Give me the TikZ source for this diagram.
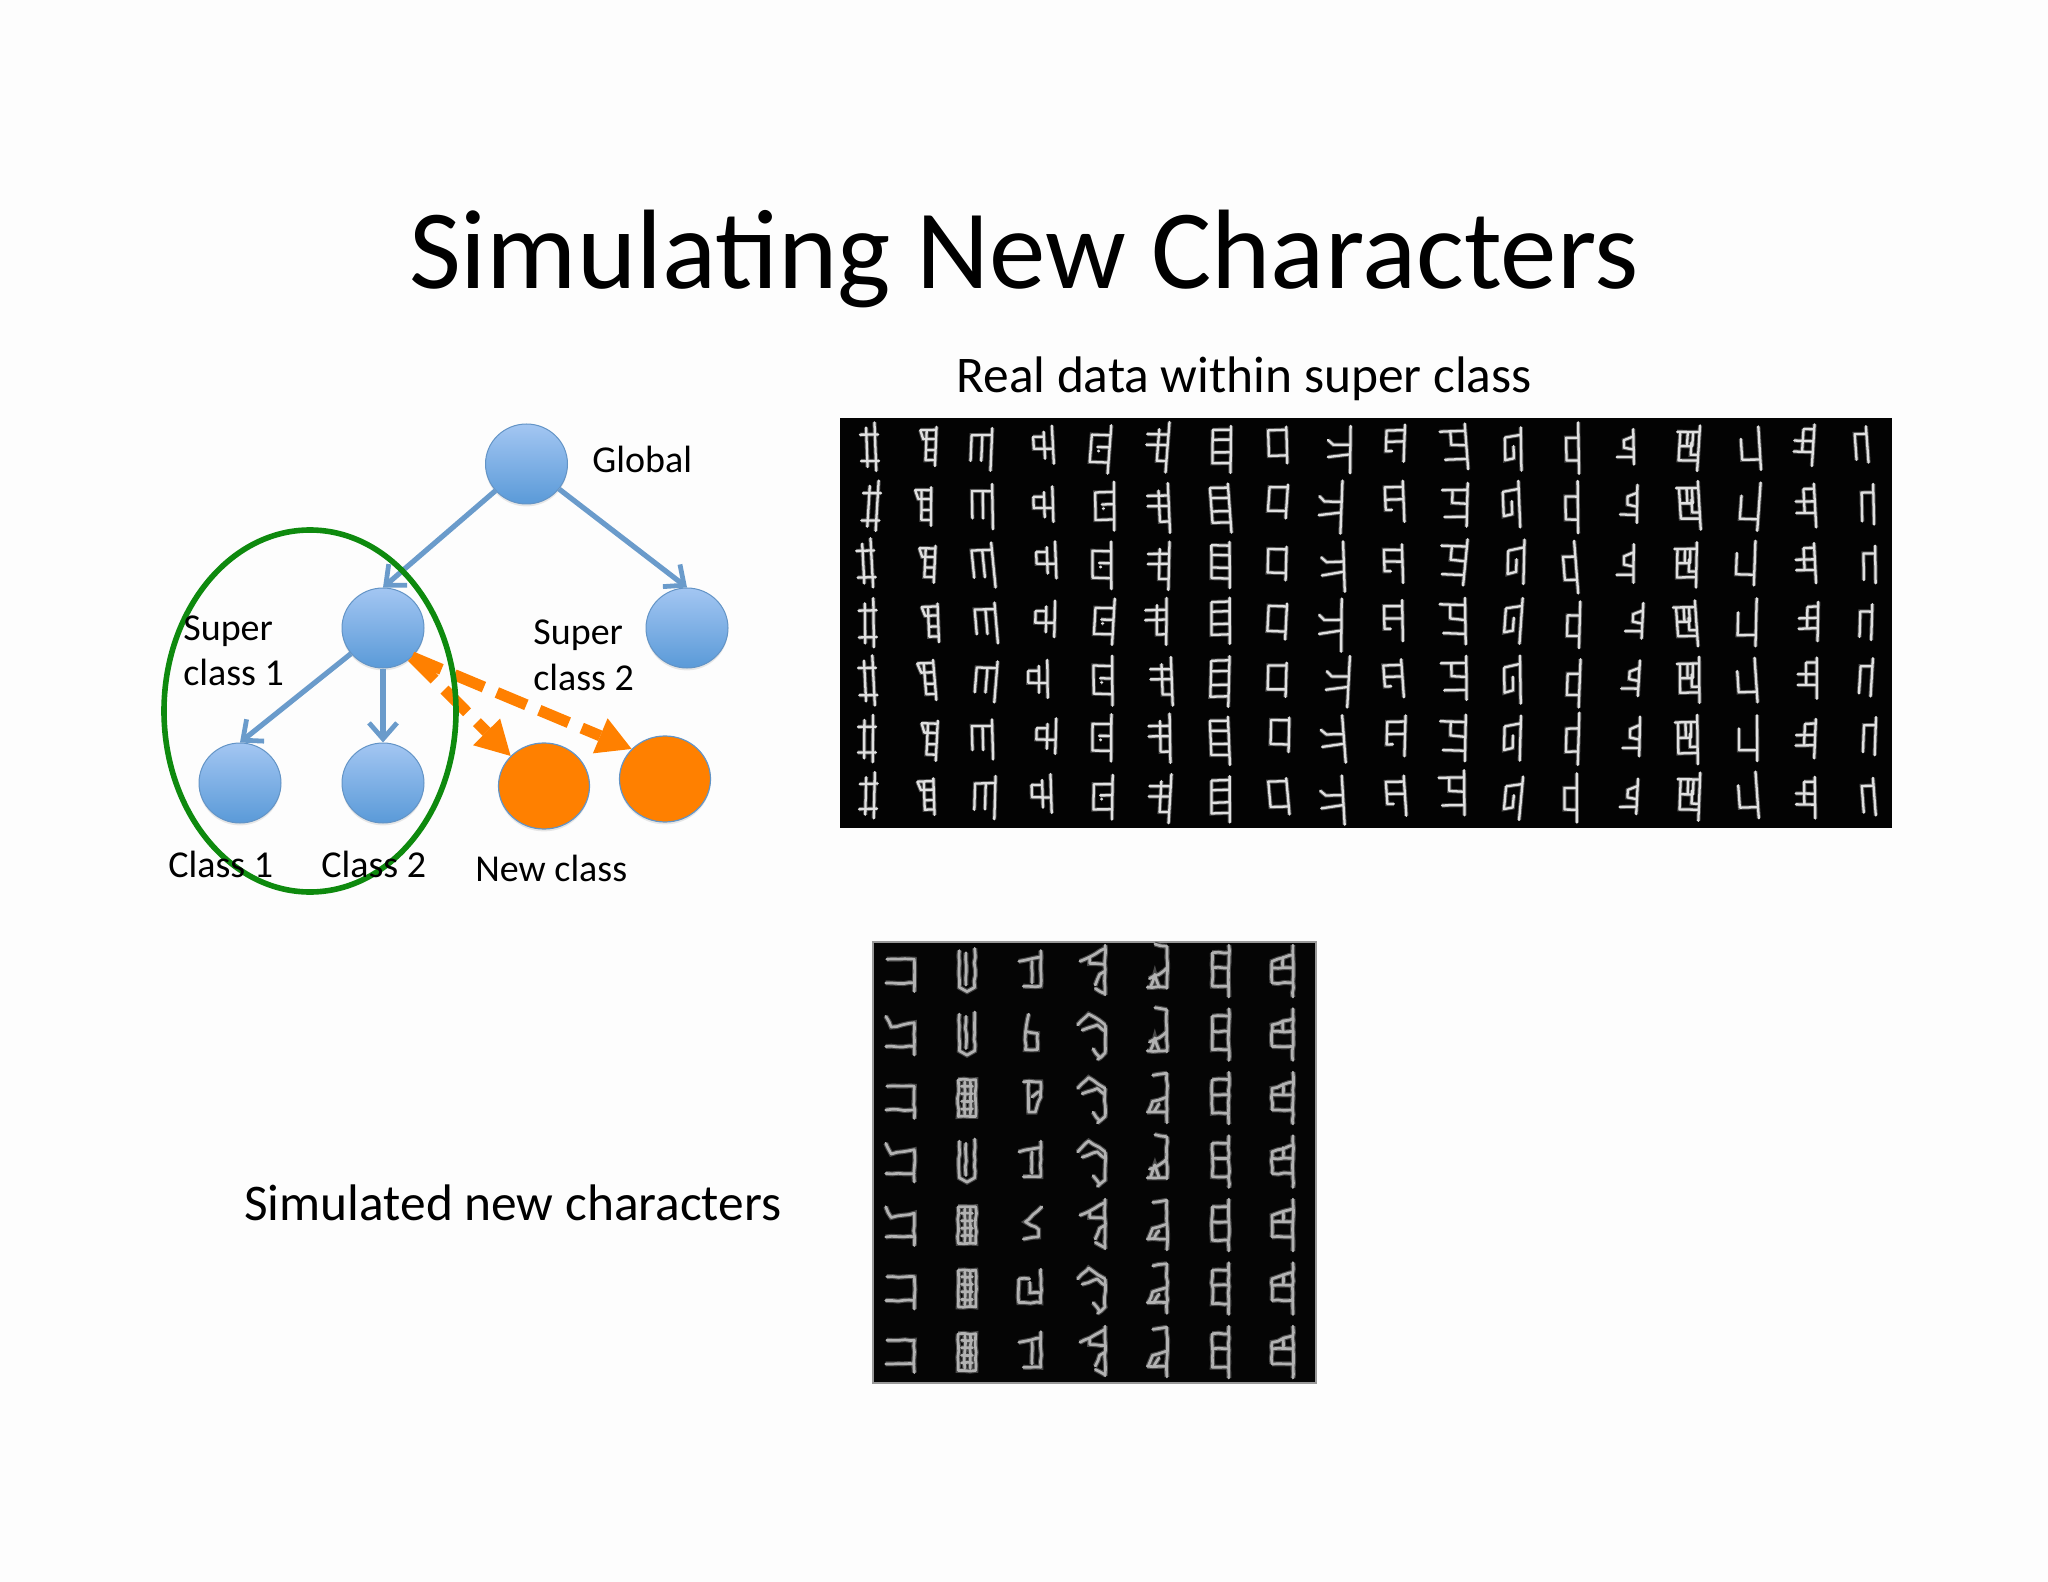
\documentclass[tikz,border=0pt]{standalone}
\usepackage{fontspec}
\setmainfont{Carlito}
\usetikzlibrary{shapes.geometric,arrows.meta,shadows,decorations.pathmorphing}
\definecolor{nodeTop}{HTML}{A3C6F2}
\definecolor{nodeBot}{HTML}{5A9AD8}
\definecolor{nodeEdge}{HTML}{6394C6}
\definecolor{edgeBlue}{HTML}{6A9BCB}
\definecolor{newOrange}{HTML}{FF8000}
\definecolor{ringGreen}{HTML}{0E8A0E}
\tikzset{
  bluenode/.style={ellipse,inner sep=0pt,minimum width=41pt,minimum height=40pt,top color=nodeTop,bottom color=nodeBot,draw=nodeEdge,line width=.5pt,drop shadow={opacity=.18,shadow xshift=0pt,shadow yshift=-1.2pt}},
  orangenode/.style={ellipse,inner sep=0pt,minimum width=45.5pt,minimum height=43pt,fill=newOrange,draw=nodeEdge,line width=.6pt,drop shadow={opacity=.18,shadow xshift=0pt,shadow yshift=-1.2pt}},
  ring/.style={ellipse,inner sep=0pt,minimum width=146pt,minimum height=181pt,draw=ringGreen,line width=2.8pt},
  treeedge/.style={draw=edgeBlue,line width=2.6pt,-{Straight Barb[length=8pt,width=14pt,line width=2.4pt]}},
  newedge/.style={draw=newOrange,line width=5.6pt,dash pattern=on 16pt off 7pt,-{Triangle[length=17pt,width=19pt,line width=0pt]}},
  lab/.style={inner sep=0pt,anchor=base west,font=\fontsize{19}{20}\selectfont},
  biglab/.style={inner sep=0pt,anchor=base west,font=\fontsize{25.7}{28}\selectfont},
  titlelab/.style={inner sep=0pt,anchor=base,font=\fontsize{56.5}{58}\selectfont},
  realstroke/.style={draw=white!88!black,line width=1.15pt,line cap=round,line join=round,preaction={draw=black!70,line width=2.1pt}},
  simstroke/.style={draw=white!70!black,line width=1.35pt,line cap=round,line join=round,decorate,decoration={random steps,segment length=3pt,amplitude=.35pt},preaction={draw=black!72,line width=2.5pt}}
}
% real-data glyphs, local pixels around the glyph centre
\def\glyA{(-4,-19)--(-4,20) (4,-24)--(4,24) (-10,-12)--(7,-12) (-10,14)--(7,14)}
\def\glyB{(7,-19)--(7,20) (-2,-16)--(-2,14)--(7,14) (-8,-16)--(7,-16) (-8,-16)--(-5,-7)--(7,-7) (-2,4)--(7,4)}
\def\glyC{(-10,13)--(-10,-13)--(9,-13) (9,-20)--(9,23) (0,-13)--(0,13)}
\def\glyD{(8,-19)--(8,19) (0,-13)--(0,14) (-10,-8)--(-10,4)--(8,4) (-10,-8)--(0,-8)}
\def\glyE{(8,13)--(-9,13)--(-9,-14)--(8,-14) (8.5,-24)--(8.5,24) (-3,-2)--(8,-2) (-2,2)--(-1,2)}
\def\glyF{(0,-17)--(0,13)--(9,13) (9,-24)--(9,24) (-11,-12)--(9,-12) (-11,-2)--(9,-2)}
\def\glyG{(-8,-20)--(-8,14)--(9,14) (9,-24)--(9,24) (-8,-20)--(9,-20) (-8,-10)--(9,-10) (-8,3)--(9,3)}
\def\glyH{(9,-15)--(-8,-15)--(-8,10)--(9,10) (9,-18)--(9,18)}
\def\glyI{(9,-25)--(9,25) (-12,-10)--(-7,-5)--(9,-5) (-12,8)--(9,5)}
\def\glyJ{(-3,8)--(-9,8)--(-9,-14)--(8,-14) (8,-20)--(8,20) (-8,-2)--(8,-2)}
\def\glyK{(10,-22)--(10,22) (-14,-15)--(10,-15) (-4,-15)--(-4,-2)--(10,-1) (-11,12)--(10,12)}
\def\glyL{(7,-23)--(7,23) (-8,-12)--(7,-15) (-8,-12)--(-8,12)--(0,10)--(0,-3)}
\def\glyM{(5,-9)--(-6.5,-9)--(-6.5,13)--(5,13) (5,-24)--(5,26)}
\def\glyN{(7,-18)--(7,20) (7,-10)--(-2,-6)--(-2,2)--(7,4) (-9,12)--(7,12)}
\def\glyO{(10,-24)--(10,24) (-11,-17)--(10,-17) (-8,-17)--(-8,13)--(10,13) (-1,-17)--(-1,-2) (4,-17)--(4,-2) (-8,-2)--(4,-2) (3,-6)--(3,7)--(10,7)}
\def\glyP{(-8,-10)--(-8,12)--(9,12) (9,-23)--(9,23)}
\def\glyQ{(-2,-16)--(-2,7) (8,-21)--(8,21) (-2,-16)--(8,-16) (-10,-4)--(8,-4) (-10,7)--(8,7)}
\def\glyR{(-5,17)--(-5,-10)--(6,-10) (6,-18)--(6,20)}
% simulated glyphs
\def\simAa{(-12,-10)--(13,-10)--(13,20) (-13,12)--(13,12)}
\def\simAb{(-13,-16)--(-8,-6)--(13,-10)--(13,20) (-13,12)--(13,12)}
\def\simBa{(-7,-18)--(-7,16)--(0,20)--(7,16)--(7,-20) (-1,-16)--(-1,14)}
\def\simBf{(-8,-16)--(-8,18)--(8,18)--(8,-16)--(-8,-16) (-5,-10)--(5,-10) (-5,-3)--(5,-3) (-5,4)--(5,4) (-5,11)--(5,11) (-2,-14)--(-2,16) (3,-14)--(3,16)}
\def\simCa{(8,-18)--(8,15)--(-8,15) (-12,-8)--(8,-12) (0,-8)--(0,12)}
\def\simCb{(-3,-18)--(-6,0)--(-6,15)--(5,15)--(5,0)--(-6,-2)}
\def\simCc{(-8,-14)--(8,-14)--(8,0)--(3,14)--(-3,14)--(-3,-14) (0,0)--(6,-5)}
\def\simCe{(9,-16)--(-6,-2)--(6,5)--(6,12)--(-8,14)}
\def\simCf{(-12,-8)--(-12,14)--(8,14)--(8,-17) (-2,-5)--(-2,5)--(8,5) (-12,-8)--(-2,-8)}
\def\simDa{(11,-23)--(11,23) (-12,-8)--(-3,-12)--(11,-20) (-3,-12)--(-3,-6)--(11,-5) (2,14)--(6,4)--(11,1) (2,17)--(11,22)}
\def\simDb{(11,-8)--(11,18)--(4,24) (-14,-8)--(-4,-18)--(11,-8) (-10,-3)--(4,-8)--(11,-2) (0,14)--(6,22)}
\def\simEa{(9,-22)--(9,17) (-2,-24)--(9,-22) (-9,16)--(9,16) (-7,8)--(2,4)--(9,-2) (-6,16)--(-2,4)--(2,16)}
\def\simEb{(9,-22)--(9,24) (-4,-20)--(9,-22) (-9,14)--(9,14) (-8,14)--(-4,4)--(9,0) (-3,14)--(2,6)}
\def\simF{(-7,-16)--(-7,15)--(8,15) (8,-23)--(8,25) (-7,-16)--(8,-16) (-7,-2)--(8,-2)}
\def\simG{(-10,12)--(-10,-8)--(9,-14) (9,-23)--(9,25) (-10,-2)--(9,-2) (-10,12)--(9,12) (0,-12)--(0,-2)}
\begin{document}
\begin{tikzpicture}[x=.5pt,y=-.5pt]
\useasboundingbox (0,0) rectangle (2048,1582);
\fill[white!99.4!black] (0,0) rectangle (2048,1582);
% title and captions
\node[titlelab] (title) at (1024,289) {Simulating New Characters};
\node[biglab] (realcap) at (956,393) {Real data within super class};
\node[biglab] (simcap) at (244,1220) {Simulated new characters};
% tree
\node[bluenode] (global) at (526.5,464) {};
\node[bluenode] (super1) at (383,628) {};
\node[bluenode] (super2) at (687,628) {};
\node[bluenode] (class1) at (240,783) {};
\node[bluenode] (class2) at (383,783) {};
\node[orangenode] (new1) at (544,786) {};
\node[orangenode] (new2) at (665,779) {};
\draw[treeedge] (global) -- (super1.north);
\draw[treeedge] (global) -- (super2.north);
\draw[treeedge] (super1) -- (class1.north);
\draw[treeedge] (super1) -- (class2.north);
\draw[newedge] (super1.-45) -- (new1.138);
\draw[newedge] (super1.-45) -- (new2.138);
\node[ring] (ring) at (310,711) {};
\node[lab] (lglobal) at (592,473) {Global};
\node[lab] (ls1a) at (183,640) {Super};
\node[lab] (ls1b) at (183,685) {class 1};
\node[lab] (ls2a) at (533,644) {Super};
\node[lab] (ls2b) at (533,690) {class 2};
\node[lab] (lc1) at (168,877) {Class 1};
\node[lab] (lc2) at (321,877) {Class 2};
\node[lab] (lnew) at (475,881) {New class};
% real-data panel
\fill[black!99] (840,418) rectangle (1892,828);
\pgfmathsetseed{7}
\foreach \g/\base/\dy/\lst in {
 \glyA/830/0/{115,120,105,110,110,108,112},
 \glyB/830/0/{275,262,272,282,272,278,270},
 \glyC/830/0/{425,428,430,438,438,428,435},
 \glyD/830/-2/{600,600,608,605,585,608,595},
 \glyE/830/1/{757,770,762,768,765,762,765},
 \glyF/830/1/{918,922,922,915,930,925,925},
 \glyG/830/1/{1095,1092,1092,1092,1090,1090,1092},
 \glyH/830/-2/{1252,1252,1250,1250,1250,1258,1255},
 \glyI/830/2/{1430,1405,1412,1405,1425,1412,1410},
 \glyJ/1360/-2/{100,98,95,95,95,102,102},
 \glyK/1360/-2/{268,270,265,265,268,265,262},
 \glyL/1360/0/{430,425,438,430,428,428,430},
 \glyM/1360/1/{597,595,590,600,600,597,592},
 \glyN/1360/-2/{745,755,745,770,760,762,755},
 \glyO/1360/1/{918,920,912,912,920,915,920},
 \glyP/1360/0/{1092,1090,1078,1082,1082,1085,1085},
 \glyQ/1360/-1/{1245,1250,1250,1258,1255,1250,1250},
 \glyR/1360/-2/{1402,1420,1425,1415,1415,1425,1422}}{
  \foreach \zx [count=\r] in \lst {
    \pgfmathsetmacro{\gx}{\base+\zx/2.8}
    \pgfmathsetmacro{\gy}{447+(\r-1)*58.3+\dy+2*rand}
    \pgfmathsetmacro{\ga}{2.2*rand}
    \pgfmathsetmacro{\gs}{1+.07*rand}
    \pgfmathsetmacro{\gk}{.06*rand}
    \draw[realstroke,shift={(\gx,\gy)},rotate=\ga,xscale=1.07,yscale=\gs,xslant=\gk] \g;
  }
}
% simulated panel
\fill[black!98] (873,942) rectangle (1316,1383);
\draw[black!40,line width=.7pt] (873,942) rectangle (1316,1383);
\foreach \cx/\lst in {
 900/{\simAa,\simAb,\simAa,\simAb,\simAb,\simAa,\simAa},
 967/{\simBa,\simBa,\simBf,\simBa,\simBf,\simBf,\simBf},
 1032/{\simCa,\simCb,\simCc,\simCa,\simCe,\simCf,\simCa},
 1093/{\simDa,\simDb,\simDb,\simDb,\simDa,\simDb,\simDa},
 1157/{\simEa,\simEa,\simEb,\simEa,\simEb,\simEb,\simEb},
 1220/{\simF,\simF,\simF,\simF,\simF,\simF,\simF},
 1283/{\simG,\simG,\simG,\simG,\simG,\simG,\simG}}{
  \foreach \g [count=\r] in \lst {
    \pgfmathsetmacro{\gy}{970+(\r-1)*63.5}
    \draw[simstroke,shift={(\cx,\gy)},xscale=1.1,yscale=1.08] \g;
  }
}
\end{tikzpicture}
\end{document}
